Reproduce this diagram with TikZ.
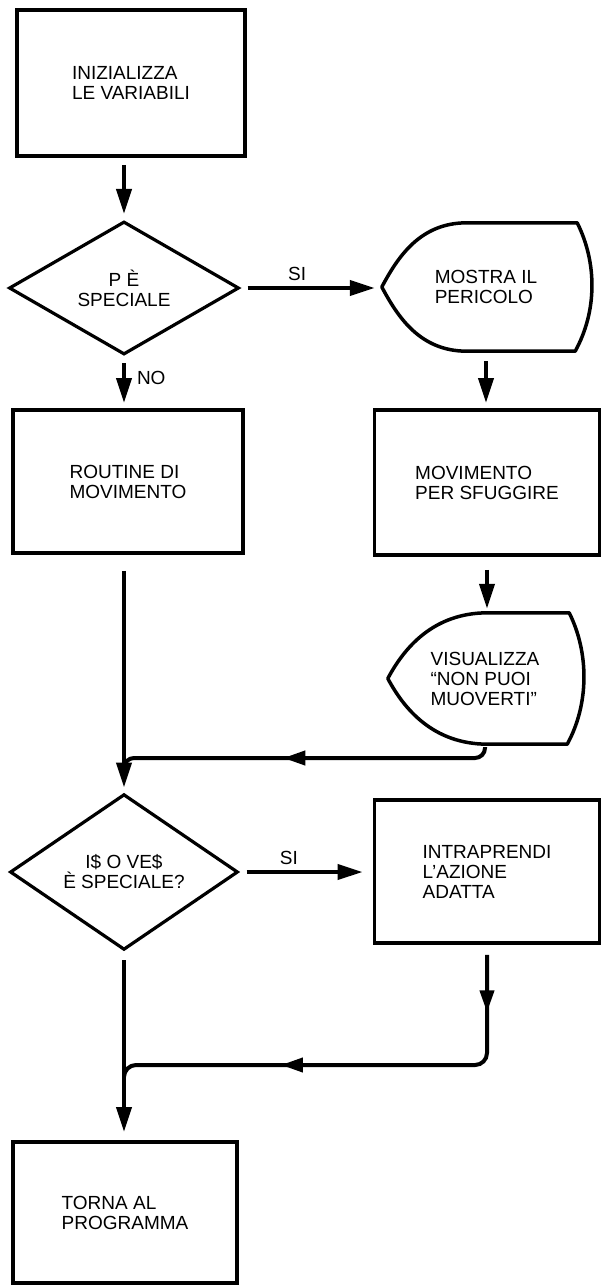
\documentclass[tikz,border=0pt]{standalone}
\usepackage{fontspec}
\setmainfont{Liberation Sans}
\usetikzlibrary{shapes.geometric,arrows.meta,calc,decorations.markings}

\newcommand{\flowfont}{\fontsize{19}{20}\selectfont}

% outline of a "display" symbol drawn round a node:
% #1 = node name, #2 = distance from the left point to the start of the flat top
\newcommand{\dispoutline}[2]{%
  \draw[shapeline]
    (#1.west)
      .. controls ($(#1.west)+(16,-30)$) and ($(#1.north west)+(#2*0.45,0)$) .. ($(#1.north west)+(#2,0)$)
      -- ($(#1.north east)+(-13,0)$)
      .. controls ($(#1.north east)+(7,40)$) and ($(#1.south east)+(7,-40)$) .. ($(#1.south east)+(-15,0)$)
      -- ($(#1.south west)+(#2,0)$)
      .. controls ($(#1.south west)+(#2*0.45,0)$) and ($(#1.west)+(16,30)$) .. cycle;
}

\tikzset{
  box/.style={draw, rectangle, line width=3.8pt, inner sep=0pt, align=left, font=\flowfont},
  decision/.style={draw, diamond, line width=3.2pt, inner sep=0pt, align=center, font=\flowfont},
  display/.style={rectangle, inner sep=0pt, align=left, font=\flowfont},
  shapeline/.style={line width=3.5pt, line join=round},
  flow/.style={line width=4pt, -{Triangle[length=25pt,width=15pt]}},
  flowline/.style={line width=4pt},
  lbl/.style={font=\flowfont, inner sep=2pt},
  midarrow/.style={postaction={decorate, decoration={markings,
      mark=at position #1 with {\arrow{Triangle[length=22pt,width=14pt]}}}}}
}

\begin{document}
\begin{tikzpicture}[x=1pt,y=-1pt]
\useasboundingbox (0,0) rectangle (602,1285);

% left column
\node[box, minimum width=228pt, minimum height=146pt] (init) at (131,83) {INIZIALIZZA\\LE VARIABILI};
\node[decision, minimum width=230pt, minimum height=133pt] (dec1) at (124,288) {P È\\SPECIALE};
\node[box, minimum width=230pt, minimum height=143pt] (routine) at (128,481.5) {ROUTINE DI\\MOVIMENTO};
\node[decision, minimum width=228pt, minimum height=135pt] (dec2) at (124,872) {I\$ O VE\$\\È SPECIALE?};
\node[box, minimum width=224pt, minimum height=141pt] (torna) at (125,1212.5) {TORNA AL\\PROGRAMMA};

% right column
\node[display, minimum width=208pt, minimum height=128pt] (disp1) at (486,287) {MOSTRA IL\\PERICOLO};
\dispoutline{disp1}{85}
\node[box, minimum width=225pt, minimum height=145pt] (escape) at (487,482.5) {MOVIMENTO\\PER SFUGGIRE};
\node[display, minimum width=194pt, minimum height=131pt] (disp2) at (485,678.5) {VISUALIZZA\\“NON PUOI\\MUOVERTI”};
\dispoutline{disp2}{100}
\node[box, minimum width=225pt, minimum height=143pt] (action) at (487,871.5) {INTRAPRENDI\\L'AZIONE\\ADATTA};

% points where the return lines meet the main line
\coordinate (j1) at (124,758);
\coordinate (j2) at (124,1065);

% connectors
\draw[flow, shorten <=7pt, shorten >=6pt] (init.south -| dec1.north) -- (dec1.north);
\draw[flow, shorten <=7pt, shorten >=7pt] (dec1.east) -- node[lbl, above=3pt, pos=0.4] {SI} (dec1.east -| disp1.west);
\draw[flow, shorten <=7pt, shorten >=5pt] (dec1.south) -- node[lbl, right=9pt, pos=0.42] {NO} (dec1.south |- routine.north);
\draw[flow, shorten <=10pt, shorten >=5pt] (disp1.south) -- (disp1.south |- escape.north);
\draw[flow, shorten <=13pt, shorten >=4pt] (escape.south) -- (escape.south |- disp2.north);
\draw[flow, shorten <=16pt, shorten >=5pt] (routine.south -| dec2.north) -- (dec2.north);
\draw[flowline, rounded corners=10pt, midarrow=0.555] ([yshift=-3pt]disp2.south) |- (j1) -- ++(0,12);
\draw[flow, shorten <=7pt, shorten >=10pt] (dec2.east) -- node[lbl, above=3pt, pos=0.37] {SI} (dec2.east -| action.west);
\draw[flow, shorten <=9pt, shorten >=8pt] (dec2.south) -- (dec2.south |- torna.north);
\draw[flowline, rounded corners=12pt, midarrow=0.121, midarrow=0.655] ([yshift=-10pt]action.south) |- (j2) -- ++(0,12);

\end{tikzpicture}
\end{document}
